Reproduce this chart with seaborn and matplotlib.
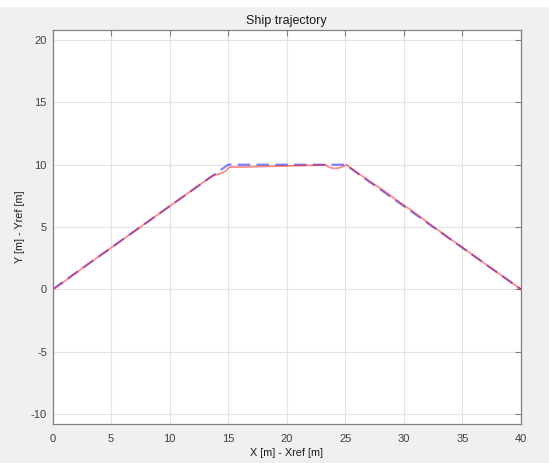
import matplotlib
matplotlib.use("Agg")
import matplotlib.pyplot as plt
from matplotlib.patches import Rectangle
import seaborn as sns
import pandas as pd

# Reference path (blue dashed)
ref_x = [0, 15, 25, 40]
ref_y = [0, 10, 10, 0]

# Ship actual trajectory (red)
ship_x = [0.0, 0.1, 3.0, 6.0, 9.0, 12.0, 13.6, 14.0, 14.4, 14.8, 15.1, 18.0, 21.0,
          23.3, 23.6, 24.0, 24.4, 24.8, 25.1, 26.0, 27.0, 28.0, 29.0, 30.0, 31.0,
          32.0, 33.0, 34.0, 35.0, 36.0, 37.0, 38.0, 39.0, 40.0]
ship_y = [0.3, 0.0, 2.0, 4.0, 6.0, 8.0, 9.07, 9.2, 9.3, 9.5, 9.8, 9.85, 9.92,
          9.98, 9.8, 9.7, 9.72, 9.85, 10.0, 9.38, 8.72, 8.1, 7.42, 6.75, 6.1,
          5.38, 4.7, 4.02, 3.36, 2.68, 2.0, 1.34, 0.67, 0.0]

x_ticks = [0, 5, 10, 15, 20, 25, 30, 35, 40]
y_ticks = [-10, -5, 0, 5, 10, 15, 20]

title = "Ship trajectory"
xlabel = "X [m] - Xref [m]"
ylabel = "Y [m] - Yref [m]"

sns.set_style("white")
plt.rcParams["font.family"] = ["Liberation Sans", "DejaVu Sans"]
plt.rcParams["axes.unicode_minus"] = False

fig = plt.figure(figsize=(5.49, 4.63), dpi=100, facecolor="#f0f0f0")
fig.patches.append(Rectangle((0, 1 - 7 / 463), 1, 7 / 463, transform=fig.transFigure,
                             facecolor="white", edgecolor="none", zorder=-1))
ax = fig.add_axes([52.5 / 549, 1 - 424 / 463, (521 - 52.5) / 549, (424 - 30) / 463])
ax.set_facecolor("white")

ref_df = pd.DataFrame({"x": ref_x, "y": ref_y})
ship_df = pd.DataFrame({"x": ship_x, "y": ship_y})

sns.lineplot(data=ref_df, x="x", y="y", sort=False, ax=ax, color="#0000ff", alpha=0.5,
             linewidth=1.5, estimator=None)
ax.lines[-1].set_dashes([6, 3])
sns.lineplot(data=ship_df, x="x", y="y", sort=False, ax=ax, color="#ff0000", alpha=0.45,
             linewidth=1.3, estimator=None)

ax.set_xlim(0, 40)
ax.set_ylim(-10.8, 20.8)
ax.set_xticks(x_ticks)
ax.set_yticks(y_ticks)
ax.grid(True, color="#e3e3e3", linewidth=0.8)
ax.set_axisbelow(True)
ax.tick_params(direction="in", length=4, width=0.8, colors="#808080",
               labelcolor="#404040", labelsize=8, top=True, right=True)
ax.tick_params(axis="x", pad=7)
ax.tick_params(axis="y", pad=4)
for s in ax.spines.values():
    s.set_color("#808080")
    s.set_linewidth(0.9)
    s.set_visible(True)

ax.set_title(title, fontsize=9, color="#1a1a1a", pad=4)
ax.set_xlabel(xlabel, fontsize=7.8, color="#1a1a1a", labelpad=3)
ax.set_ylabel(ylabel, fontsize=7.8, color="#1a1a1a", labelpad=4)

fig.savefig("out.png", dpi=100, facecolor=fig.get_facecolor())
